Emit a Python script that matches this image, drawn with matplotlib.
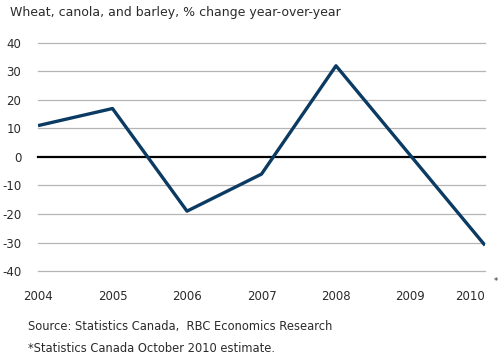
import matplotlib
matplotlib.use("Agg")
import matplotlib.pyplot as plt

years = [2004, 2005, 2006, 2007, 2008, 2009, 2010]
change = [11, 17, -19, -6, 32, 0.5, -31]
year_labels = ['2004', '2005', '2006', '2007', '2008', '2009', '2010']
y_ticks = [40, 30, 20, 10, 0, -10, -20, -30, -40]

txt = '#2b2b2b'
fig = plt.figure(figsize=(5, 3.58), dpi=100)
ax = fig.add_axes([0.076, 0.243, 0.894, 0.637])

for t in y_ticks:
    if t == 0:
        ax.axhline(t, color='black', lw=1.6, zorder=2, clip_on=False)
    else:
        ax.axhline(t, color='#b5b5b5', lw=0.9, zorder=1, clip_on=False)

ax.plot(years, change, color='#0b3a62', lw=2.4, solid_capstyle='butt', zorder=3)

ax.set_xlim(2004, 2010)
ax.set_ylim(-40, 40)
for s in ax.spines.values():
    s.set_visible(False)
ax.set_yticks(y_ticks)
ax.set_yticklabels([str(t) for t in y_ticks], color=txt, fontsize=8.5)
ax.tick_params(axis='y', length=0, pad=12)
ax.set_xticks(years)
ax.set_xticklabels(year_labels, color=txt, fontsize=8.5)
ax.tick_params(axis='x', length=0, pad=14)
ax.get_xticklabels()[-1].set_ha('right')

fig.text(0.988, 0.208, '*', color=txt, fontsize=6)
fig.text(0.02, 0.955, 'Wheat, canola, and barley, % change year-over-year', color=txt, fontsize=9)
fig.text(0.056, 0.078, 'Source: Statistics Canada,  RBC Economics Research', color=txt, fontsize=8.3)
fig.text(0.056, 0.016, '*Statistics Canada October 2010 estimate.', color=txt, fontsize=8.3)

fig.savefig('out.png', dpi=100)
